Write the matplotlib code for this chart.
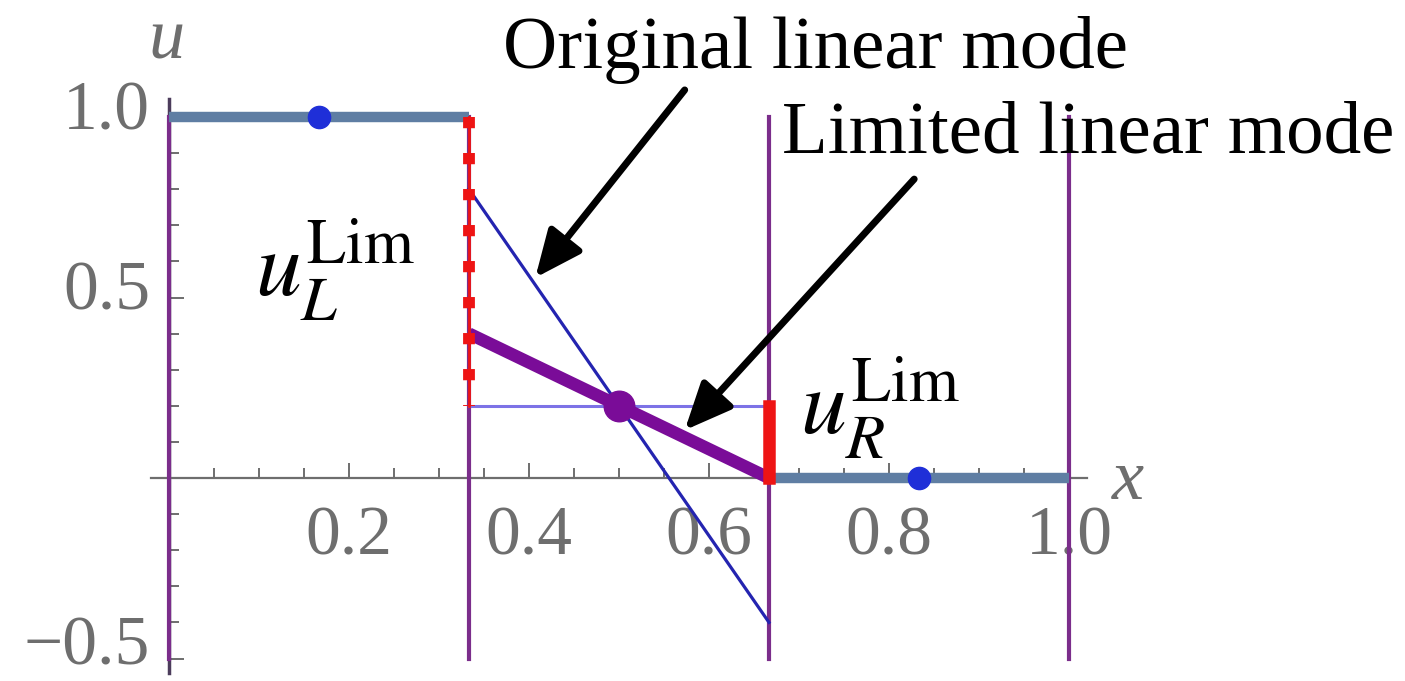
import numpy as np
import matplotlib.pyplot as plt
from matplotlib.ticker import FixedLocator, NullFormatter

plt.rcParams['mathtext.fontset'] = 'stix'

# cell edges and piecewise data
edges = [0.0, 1/3, 2/3, 1.0]
left_u = 1.0          # state in the left cell
right_u = 0.0         # state in the right cell
centers = [1/6, 5/6]
center_u = [1.0, 0.0]
mid_x = 0.5
mid_avg = 0.2
orig_ends = [0.8, -0.4]   # unlimited reconstruction at the cell faces
lim_ends = [0.4, 0.0]     # limited reconstruction at the cell faces
lim_range_left = [1.0, 0.2]
lim_range_right = [0.0, 0.2]

xticks = [0.2, 0.4, 0.6, 0.8, 1.0]
xticklabels = ['0.2', '0.4', '0.6', '0.8', '1.0']
yticks = [-0.5, 0.5, 1.0]
yticklabels = ['\u22120.5', '0.5', '1.0']

W, H = 1405, 681
fig = plt.figure(figsize=(W / 100, H / 100), dpi=100)
ax = fig.add_axes([0, 0, 1, 1])
ax.set_xlim(-169 / 900, (W - 169) / 900)
ax.set_ylim(-(H - 478) / 361, 478 / 361)

gray = '#6e6e6e'
for s in ['top', 'right']:
    ax.spines[s].set_visible(False)
ax.spines['left'].set_position(('data', 0))
ax.spines['bottom'].set_position(('data', 0))
ax.spines['left'].set_bounds(-0.54, 1.05)
ax.spines['bottom'].set_bounds(-0.02, 1.02)
ax.spines['left'].set_color('#4c3c5c')
ax.spines['left'].set_linewidth(2.5)
ax.spines['bottom'].set_color(gray)
ax.spines['bottom'].set_linewidth(1.6)

ax.xaxis.set_major_locator(FixedLocator(xticks))
ax.xaxis.set_minor_locator(FixedLocator(np.arange(1, 21) * 0.05))
ax.yaxis.set_major_locator(FixedLocator(yticks))
ax.yaxis.set_minor_locator(FixedLocator(np.arange(-5, 11) * 0.1))
ax.yaxis.set_major_formatter(NullFormatter())
ax.tick_params(which='both', direction='in', colors=gray, width=1.4)
ax.tick_params(which='major', length=11)
ax.tick_params(which='minor', length=7)
ax.tick_params(axis='x', which='major', pad=20)
ax.set_xticklabels(xticklabels, fontfamily='Liberation Serif', fontsize=50,
                   color=gray)

# y tick labels placed by hand; the lowest one is nudged up to stay inside
for yv, lab in zip(yticks, yticklabels):
    ax.text(-0.021, max(yv + 0.012, -0.47), lab, fontfamily='Liberation Serif',
            fontsize=50, color=gray, ha='right', va='center')

ax.text(-0.003, 1.21, 'u', fontfamily='Liberation Serif', style='italic',
        fontsize=52, color=gray, ha='center', va='center')
ax.text(1.066, -0.01, 'x', fontfamily='Liberation Serif', style='italic',
        fontsize=52, color=gray, ha='center', va='center')

# cell boundaries
purple = '#7b2d8b'
for e in edges:
    ax.plot([e, e], [-0.5, 1.0], color=purple, lw=3, zorder=3)

# piecewise-constant states in the outer cells
steel = '#5f7ea3'
ax.plot([edges[0], edges[1]], [left_u, left_u], color=steel, lw=7.5, zorder=4,
        solid_capstyle='butt')
ax.plot([edges[2], edges[3]], [right_u, right_u], color=steel, lw=7.5, zorder=4,
        solid_capstyle='butt')
ax.plot(centers, center_u, 'o', color='#1f2fd8', ms=16, zorder=6)

# middle cell: average, original and limited slopes
mid_edges = [edges[1], edges[2]]
ax.plot(mid_edges, [mid_avg, mid_avg], color='#7d72e6', lw=2.2, zorder=4)
ax.plot(mid_edges, orig_ends, color='#2424b0', lw=2.3, zorder=5)
ax.plot(mid_edges, lim_ends, color='#7a0c98', lw=9, zorder=6,
        solid_capstyle='butt')
ax.plot([mid_x], [mid_avg], 'o', color='#7a0c98', ms=22, zorder=7)

# admissible ranges at the faces
red = '#ee1414'
ax.plot([edges[1], edges[1]], lim_range_left, color=red, lw=2.0, zorder=7)
ax.plot([edges[1], edges[1]], lim_range_left, color=red, lw=8.5, zorder=7,
        dashes=(0.95, 2.1), dash_capstyle='butt')
ax.plot([edges[2], edges[2]], lim_range_right, color=red, lw=9, zorder=7,
        solid_capstyle='projecting')

# labels
ax.text(0.0956, 0.501, r'$u_L^{\mathrm{Lim}}$', fontsize=66, ha='left',
        va='baseline', zorder=8)
ax.text(0.701, 0.119, r'$u_R^{\mathrm{Lim}}$', fontsize=66, ha='left',
        va='baseline', zorder=8)

ax.text(0.718, 1.136, 'Original linear mode', fontfamily='Liberation Serif',
        fontsize=54, ha='center', va='baseline', zorder=8)
ax.text(1.021, 0.903, 'Limited linear mode', fontfamily='Liberation Serif',
        fontsize=54, ha='center', va='baseline', zorder=8)

def on_line(ends, x):
    t = (x - edges[1]) / (edges[2] - edges[1])
    return ends[0] + t * (ends[1] - ends[0])

arrow = dict(arrowstyle='-|>,head_length=0.95,head_width=0.42', color='k',
             lw=5, mutation_scale=30, shrinkA=0, shrinkB=0)
ax.annotate('', xy=(0.407, on_line(orig_ends, 0.407) + 0.02),
            xytext=(0.573, 1.075), arrowprops=arrow, zorder=9)
ax.annotate('', xy=(0.573, on_line(lim_ends, 0.573) + 0.02),
            xytext=(0.828, 0.828), arrowprops=arrow, zorder=9)

fig.savefig('out.png', dpi=100, facecolor='white')
